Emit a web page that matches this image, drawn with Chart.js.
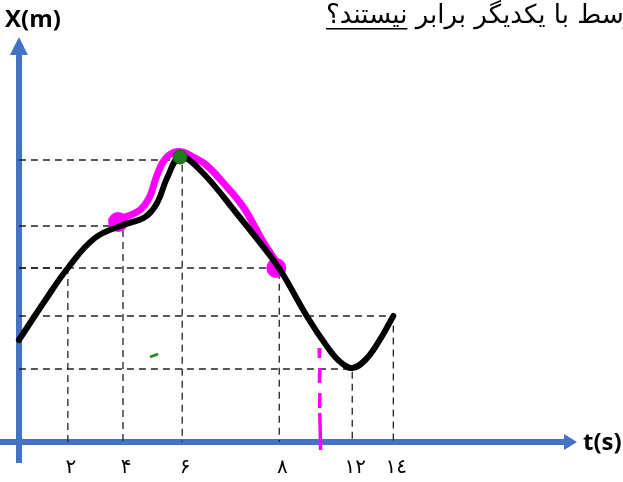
<!DOCTYPE html>
<html>
<head>
<meta charset="utf-8">
<script src="https://cdn.jsdelivr.net/npm/chart.js@4.4.0/dist/chart.umd.min.js"></script>
<style>
    body { margin: 0; background: #fff; }
    #wrap { width: 623px; height: 482px; position: relative; }
</style>
</head>
<body>
<div id="wrap"><canvas id="graficoPosicao"></canvas></div>
<script>
// Rótulos do eixo t (algarismos persas) e posição das linhas guia
const tickLabels = ['٢', '۴', '۶', '٨', '١٢', '١٤'];
const guideT = [1.81, 3.85, 6.04, 9.63, 12.33, 13.85];
const guideX = [17.4, 21.6, 28.2, 17.4, 7.3, 12.6];

// Curva x(t)
const curveT = [0, 0.93, 1.81, 2.81, 3.85, 4.67, 5.11, 5.48, 5.96, 6.70, 8.07, 9.30, 9.78, 10.67, 11.41, 11.89, 12.33, 12.81, 13.30, 13.85];
const curveX = [10.2, 14.0, 17.4, 20.4, 21.7, 22.5, 23.9, 26.4, 28.5, 27.2, 22.8, 18.6, 16.7, 12.5, 9.5, 8.0, 7.4, 8.2, 10.0, 12.6];

// Marcação rosa feita à mão
const hiT = [3.44, 4.04, 4.52, 4.85, 5.07, 5.33, 5.67, 6.04, 6.44, 6.93, 7.63, 8.30, 9.00, 9.52];
const hiX = [22.2, 22.6, 23.3, 24.6, 26.4, 28.0, 28.9, 29.0, 28.5, 27.7, 25.7, 23.5, 20.2, 18.0];
const blobT = [3.67, 9.52];
const blobX = [22.0, 17.4];
const cutT = [11.11, 11.13, 11.16];
const cutX = [9.4, 2.9, -0.8];

// Marcas verdes
const peakT = [5.96];
const peakX = [28.5];
const markT = [4.85, 5.15];
const markX = [8.5, 8.8];

const AXIS_BLUE = '#4472C4';
const pts = (ts, xs) => ts.map((t, i) => ({ x: t, y: xs[i] }));

const guides = guideT.map((t, i) => ({
    data: [{ x: 0, y: guideX[i] }, { x: t, y: guideX[i] }, { x: t, y: 0 }],
    borderColor: '#222',
    borderWidth: 1.3,
    borderDash: [7, 5],
    pointRadius: 0,
    tension: 0,
    order: 6
}));

const decor = {
    id: 'decor',
    afterDraw(chart) {
        const ctx = chart.ctx;
        const area = chart.chartArea;
        const ox = chart.scales.x.getPixelForValue(0);
        const oy = chart.scales.y.getPixelForValue(0);
        ctx.save();
        // setas dos eixos
        ctx.fillStyle = AXIS_BLUE;
        ctx.beginPath();
        ctx.moveTo(area.right - 1, oy - 8);
        ctx.lineTo(area.right + 12, oy);
        ctx.lineTo(area.right - 1, oy + 8);
        ctx.closePath();
        ctx.fill();
        ctx.beginPath();
        ctx.moveTo(ox - 9, area.top + 1);
        ctx.lineTo(ox, area.top - 17);
        ctx.lineTo(ox + 9, area.top + 1);
        ctx.closePath();
        ctx.fill();
        // títulos dos eixos
        ctx.fillStyle = '#000';
        ctx.font = 'bold 24px "Open Sans"';
        ctx.textBaseline = 'middle';
        ctx.textAlign = 'left';
        ctx.fillText('X(m)', 5, 20);
        ctx.fillText('t(s)', area.right + 18, oy + 1);
        // enunciado (cortado à direita)
        ctx.font = '26px "DejaVu Sans"';
        ctx.direction = 'rtl';
        ctx.textAlign = 'left';
        ctx.textBaseline = 'alphabetic';
        const left = 326;
        ctx.fillText('متوسط با یکدیگر برابر نیستند؟', left, 23);
        const wn = ctx.measureText('نیستند؟').width;
        ctx.fillRect(left, 28, wn, 1.5);
        ctx.restore();
    }
};

new Chart(document.getElementById('graficoPosicao').getContext('2d'), {
    type: 'line',
    data: {
        datasets: [
            ...guides,
            {
                data: pts(cutT, cutX),
                borderColor: '#ff00ff',
                borderWidth: 3.5,
                pointRadius: 0,
                segment: { borderDash: (c) => c.p0DataIndex === 0 ? [10, 15] : [] },
                order: 5
            },
            {
                data: pts(hiT, hiX),
                borderColor: '#ff00ff',
                borderWidth: 7,
                borderCapStyle: 'round',
                tension: 0.4,
                pointRadius: 0,
                order: 4
            },
            {
                data: pts(blobT, blobX),
                showLine: false,
                pointRadius: 10,
                pointBackgroundColor: '#ff00ff',
                pointBorderWidth: 0,
                order: 4
            },
            {
                data: pts(curveT, curveX),
                borderColor: '#000',
                borderWidth: 6,
                borderCapStyle: 'round',
                tension: 0.4,
                pointRadius: 0,
                order: 2
            },
            {
                data: pts(markT, markX),
                borderColor: '#1e8a1e',
                borderWidth: 2.5,
                pointRadius: 0,
                order: 1
            },
            {
                data: pts(peakT, peakX),
                showLine: false,
                pointRadius: 7,
                pointBackgroundColor: '#1e7b1e',
                pointBorderColor: '#0f5f0f',
                pointBorderWidth: 1,
                order: 1
            }
        ]
    },
    options: {
        responsive: true,
        maintainAspectRatio: false,
        animation: false,
        layout: { autoPadding: false, padding: { left: 0, top: 54, right: 58, bottom: 20 } },
        plugins: { legend: { display: false }, tooltip: { enabled: false } },
        scales: {
            x: {
                type: 'linear',
                min: -0.7,
                max: 20.2,
                position: { y: 0 },
                grid: { display: false, drawTicks: false },
                border: { display: true, color: AXIS_BLUE, width: 6 },
                afterBuildTicks: (scale) => { scale.ticks = guideT.map(v => ({ value: v })); },
                ticks: {
                    autoSkip: false,
                    maxRotation: 0,
                    padding: 14,
                    labelOffset: 3,
                    color: '#000',
                    font: { family: 'DejaVu Sans', size: 20 },
                    callback: (value, index) => tickLabels[index]
                }
            },
            y: {
                type: 'linear',
                min: -2,
                max: 38.8,
                position: { x: 0 },
                grid: { display: false, drawTicks: false },
                border: { display: true, color: AXIS_BLUE, width: 6 },
                ticks: { display: false }
            }
        }
    },
    plugins: [decor]
});
</script>
</body>
</html>
